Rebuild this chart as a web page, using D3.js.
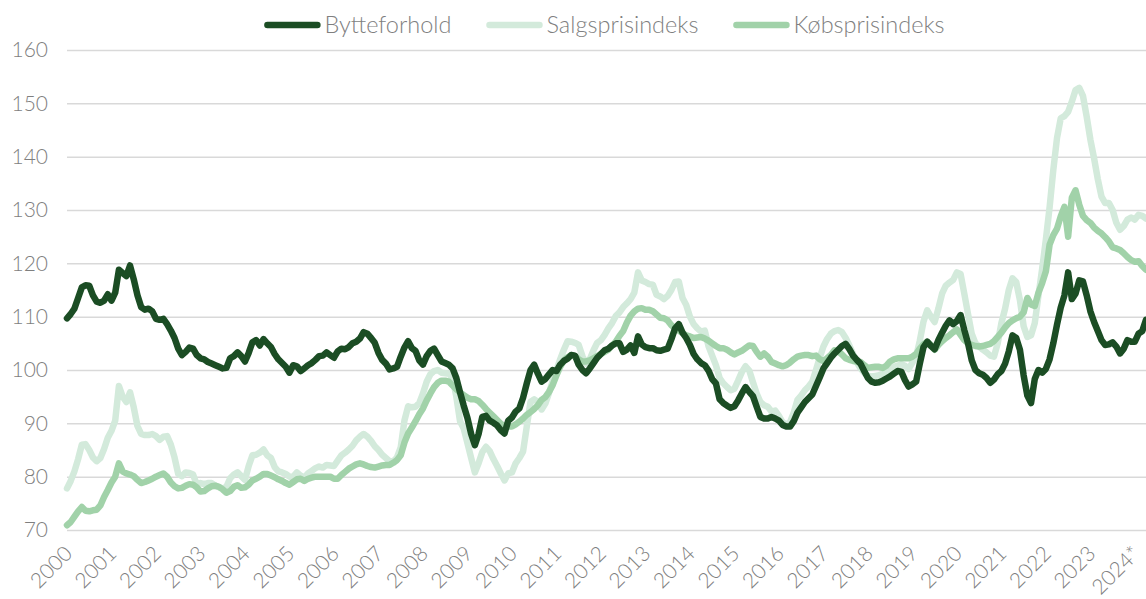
<!DOCTYPE html>
<html>
<head>
<meta charset="utf-8">
<script src="https://cdn.jsdelivr.net/npm/d3@7/dist/d3.min.js"></script>
<style>
  html, body { margin: 0; padding: 0; background: #ffffff; }
  svg { display: block; }
  text { font-family: "Lato", "Open Sans", sans-serif; font-weight: 300; }
</style>
</head>
<body>
<svg id="chart" width="1146" height="599"></svg>
<script>
// Monthly index series, January 2000 onwards
const startYear = 2000;

const bytteforhold = [
  109.7, 110.5, 111.5, 113.5, 115.5, 115.9, 115.8, 114.0, 112.8, 112.6, 113.0, 114.2,
  113.0, 114.5, 118.8, 118.2, 117.6, 119.6, 117.0, 114.0, 111.8, 111.3, 111.5, 111.0,
  109.6, 109.4, 109.6, 108.6, 107.4, 106.0, 104.0, 102.8, 103.4, 104.2, 104.0, 102.8,
  102.2, 102.0, 101.5, 101.2, 100.9, 100.6, 100.3, 100.4, 102.2, 102.6, 103.3, 102.6,
  101.6, 103.2, 105.2, 105.6, 104.6, 105.8, 105.0, 104.3, 103.0, 102.0, 101.3, 100.6,
  99.5, 100.9, 100.7, 99.8, 100.3, 100.9, 101.3, 101.9, 102.6, 102.7, 103.3, 102.8,
  102.3, 103.5, 104.0, 103.9, 104.3, 105.0, 105.3, 105.9, 107.1, 106.8, 106.0, 105.1,
  103.2, 101.9, 101.2, 100.1, 100.3, 100.6, 102.5, 104.2, 105.4, 104.1, 103.6, 101.8,
  101.0, 102.6, 103.6, 104.0, 102.8, 101.6, 101.3, 101.0, 100.3, 98.5, 95.8, 93.3,
  91.0, 88.0, 85.9, 88.0, 91.2, 91.4, 90.5, 90.1, 89.6, 88.7, 88.1, 90.5,
  91.1, 92.2, 92.8, 94.8, 97.5, 100.0, 101.0, 99.3, 97.8, 98.3, 99.2, 100.0,
  99.8, 101.0, 101.7, 102.1, 102.8, 102.7, 101.0, 100.0, 99.4, 100.3, 101.3, 102.3,
  103.0, 103.7, 104.0, 104.6, 105.0, 105.0, 103.4, 103.8, 104.6, 103.2, 106.3, 104.8,
  104.3, 104.1, 104.1, 103.7, 103.6, 103.8, 104.0, 105.8, 107.8, 108.6, 107.0, 106.0,
  104.7, 103.0, 102.0, 101.3, 100.9, 99.9, 98.3, 97.5, 94.5, 93.8, 93.3, 92.9,
  93.2, 94.3, 95.6, 96.8, 95.9, 95.1, 93.1, 91.2, 90.9, 90.9, 91.2, 90.9,
  90.5, 89.7, 89.4, 89.4, 90.4, 92.0, 93.0, 94.0, 94.7, 95.4, 97.0, 98.6,
  100.3, 101.3, 102.3, 103.1, 103.8, 104.5, 104.9, 103.9, 102.7, 101.9, 101.2, 99.8,
  98.5, 97.8, 97.6, 97.7, 98.0, 98.4, 98.8, 99.3, 99.8, 99.7, 98.1, 96.9,
  97.3, 97.8, 101.2, 104.3, 105.3, 104.5, 103.9, 105.6, 107.0, 108.3, 109.3, 108.6,
  109.2, 110.3, 107.5, 105.0, 101.8, 100.0, 99.4, 99.1, 98.5, 97.6, 98.2, 99.2,
  99.8, 101.2, 103.5, 106.5, 106.0, 103.8, 99.0, 95.2, 93.8, 98.3, 100.0, 99.5,
  100.2, 102.0, 105.0, 108.5, 111.7, 114.0, 118.3, 113.3, 114.3, 116.8, 116.6, 114.0,
  111.0, 109.0, 107.3, 105.6, 104.7, 104.8, 105.2, 104.4, 103.1, 104.0, 105.6, 105.3,
  105.3, 106.8, 107.3, 109.4
];

const salgsprisindeks = [
  77.8, 79.2, 81.0, 83.3, 86.0, 86.1, 85.0, 83.6, 82.9, 83.5, 85.2, 87.3,
  88.6, 90.5, 97.0, 95.0, 94.0, 95.8, 93.0, 89.5, 88.0, 87.8, 87.8, 88.0,
  87.6, 86.9, 87.5, 87.6, 86.0, 83.6, 80.5, 80.1, 80.8, 80.7, 80.4, 78.5,
  78.8, 78.6, 78.8, 78.8, 78.3, 78.0, 77.8, 78.1, 79.7, 80.4, 80.8, 80.1,
  79.4, 82.0, 84.0, 84.1, 84.5, 85.1, 84.0, 83.5, 81.8, 81.0, 80.8, 80.5,
  80.0, 80.0, 80.8, 80.2, 79.8, 80.6, 81.1, 81.6, 81.9, 81.7, 82.2, 82.1,
  82.0, 83.0, 84.0, 84.5, 85.1, 85.8, 86.8, 87.5, 88.0, 87.5, 86.7, 85.7,
  85.0, 84.1, 83.5, 82.9, 82.9, 83.6, 85.5, 90.5, 93.2, 93.0, 93.1, 93.8,
  95.6, 97.8, 99.2, 99.8, 100.0, 99.5, 99.4, 99.3, 98.5, 95.0, 90.4, 89.0,
  86.3, 83.5, 80.8, 82.5, 84.6, 85.6, 84.8, 83.3, 82.0, 80.6, 79.3, 80.6,
  80.8, 82.5, 83.5, 84.7, 89.4, 94.0, 94.5, 94.0, 92.6, 93.7, 95.7, 98.0,
  100.0, 102.0, 103.8, 105.4, 105.3, 105.1, 104.7, 102.6, 101.2, 102.0, 103.7, 105.1,
  105.6, 106.6, 107.8, 108.8, 110.1, 110.8, 111.8, 112.5, 113.3, 114.5, 118.3, 116.8,
  116.5, 116.1, 116.0, 114.1, 113.8, 113.3, 113.9, 115.0, 116.5, 116.6, 113.5, 112.2,
  110.0, 108.6, 107.8, 107.2, 107.4, 104.5, 102.7, 100.9, 98.5, 97.5, 96.8, 96.2,
  96.5, 98.0, 99.6, 100.7, 99.9, 97.7, 95.6, 94.0, 93.4, 93.1, 92.2, 92.4,
  91.4, 90.2, 89.8, 90.2, 92.0, 94.4, 95.2, 96.2, 96.9, 97.8, 100.0, 102.3,
  104.4, 105.8, 106.8, 107.3, 107.5, 107.1, 106.0, 104.6, 103.0, 101.5, 100.3, 99.5,
  98.9, 98.8, 98.9, 99.0, 99.3, 99.5, 99.9, 100.6, 100.8, 101.1, 100.8, 100.2,
  101.4, 102.5, 105.5, 109.1, 111.2, 110.0, 109.0, 111.5, 114.3, 115.8, 116.4, 116.9,
  118.3, 118.0, 114.3, 110.5, 106.8, 105.0, 104.4, 103.8, 103.3, 102.7, 102.5, 105.0,
  108.8, 111.5, 115.0, 117.2, 116.5, 113.1, 108.2, 106.2, 106.5, 108.8, 114.0, 119.0,
  124.5, 130.5, 137.5, 143.5, 147.2, 147.6, 148.4, 150.3, 152.5, 152.9, 151.4, 147.5,
  143.2, 139.7, 135.8, 132.5, 131.3, 131.3, 130.0, 127.6, 126.3, 127.0, 128.2, 128.6,
  128.2, 129.1, 128.9, 128.4
];

const koebsprisindeks = [
  70.9, 71.5, 72.5, 73.5, 74.3, 73.6, 73.5, 73.7, 73.8, 74.6, 76.2, 77.5,
  78.9, 80.0, 82.5, 81.0, 80.6, 80.4, 80.1, 79.4, 78.8, 79.0, 79.3, 79.6,
  80.0, 80.3, 80.6, 80.0, 78.9, 78.2, 77.8, 77.9, 78.3, 78.6, 78.5, 78.0,
  77.2, 77.3, 77.8, 78.2, 78.3, 78.1, 77.6, 77.0, 77.3, 78.1, 78.4, 77.9,
  78.0, 78.5, 79.3, 79.6, 80.0, 80.5, 80.5, 80.2, 79.9, 79.5, 79.2, 78.8,
  78.5, 79.0, 79.5, 79.6, 79.2, 79.6, 79.8, 80.0, 80.0, 80.0, 80.0, 80.0,
  79.6, 79.6, 80.3, 80.9, 81.5, 81.9, 82.3, 82.5, 82.3, 82.0, 81.8, 81.7,
  81.9, 82.1, 82.2, 82.2, 82.6, 83.1, 84.0, 86.4, 88.1, 89.2, 90.4, 91.7,
  92.8, 94.3, 95.6, 96.8, 97.6, 98.0, 98.0, 97.8, 97.1, 96.4, 95.8, 95.3,
  94.8, 94.5, 94.5, 94.2, 93.5, 92.7, 92.0, 91.3, 90.6, 89.9, 89.5, 89.4,
  89.4, 89.8, 90.3, 90.9, 91.6, 92.1, 92.7, 93.4, 94.4, 94.9, 95.9, 97.2,
  99.0, 100.6, 101.8, 102.4, 102.8, 102.6, 102.0, 101.6, 101.6, 101.8, 102.2, 102.6,
  103.0, 103.4, 103.8, 104.6, 105.3, 106.4, 107.3, 108.9, 110.2, 111.0, 111.5, 111.6,
  111.3, 111.3, 111.0, 110.4, 109.8, 109.7, 109.3, 108.4, 107.8, 107.4, 106.9, 106.5,
  106.3, 106.0, 106.1, 106.2, 105.9, 105.5, 105.0, 104.5, 104.1, 104.1, 103.8, 103.3,
  102.9, 103.3, 103.6, 104.1, 104.6, 104.5, 103.4, 102.5, 103.1, 102.5, 101.5, 101.2,
  100.9, 100.7, 100.9, 101.4, 102.0, 102.5, 102.7, 102.8, 102.8, 102.6, 102.7, 102.0,
  101.7, 102.2, 102.8, 103.7, 103.5, 102.9, 102.2, 101.9, 101.7, 101.6, 101.5, 100.9,
  100.4, 100.5, 100.6, 100.6, 100.4, 100.8, 101.6, 102.0, 102.2, 102.2, 102.2, 102.2,
  102.5, 103.0, 104.0, 104.8, 105.3, 104.7, 103.8, 104.7, 105.4, 106.0, 106.5, 107.1,
  107.6, 106.6, 105.6, 105.0, 104.7, 104.5, 104.4, 104.5, 104.7, 104.9, 105.4, 106.2,
  107.0, 108.0, 108.8, 109.3, 109.7, 110.0, 110.8, 113.5, 112.3, 112.0, 114.5, 116.3,
  118.5, 123.5, 125.3, 126.5, 128.8, 130.6, 125.0, 132.3, 133.7, 131.0, 128.9, 128.1,
  127.6, 126.7, 126.1, 125.6, 124.9, 124.1, 123.0, 122.8, 122.5, 121.9, 121.2, 120.6,
  120.3, 120.4, 119.5, 118.8
];

const yTicks = [70, 80, 90, 100, 110, 120, 130, 140, 150, 160];
const yearLabels = ["2000","2001","2002","2003","2004","2005","2006","2007","2008","2009",
  "2010","2011","2012","2013","2014","2015","2016","2017","2018","2019",
  "2020","2021","2022","2023","2024*"];

const seriesNames = ["Bytteforhold", "Salgsprisindeks", "Købsprisindeks"];
const seriesColors = ["#1b4d24", "#d3eadb", "#a1d2a9"];

const svg = d3.select("#chart");
const W = 1146, H = 599;
const margin = { left: 67, right: 0, top: 50, bottom: 69 };

const x = d3.scaleLinear()
  .domain([0, bytteforhold.length - 1])
  .range([margin.left, W - margin.right]);

const y = d3.scaleLinear()
  .domain([70, 160])
  .range([H - margin.bottom, margin.top]);

// Horizontal gridlines + y labels
const yAxis = d3.axisLeft(y).tickValues(yTicks).tickSize(-(W - margin.left)).tickPadding(19);
const gy = svg.append("g")
  .attr("transform", `translate(${margin.left},0)`)
  .call(yAxis);
gy.select(".domain").remove();
gy.selectAll(".tick line").attr("stroke", "#d9d9d9").attr("stroke-width", 1.5);
gy.selectAll(".tick text")
  .attr("fill", "#7f7f7f")
  .style("font-size", "21px");

// Year labels along the bottom, rotated 45 degrees
const yearIdx = yearLabels.map((d, i) => i * 12);
const xAxis = d3.axisBottom(x)
  .tickValues(yearIdx)
  .tickFormat((d, i) => yearLabels[i])
  .tickSize(0);
const gx = svg.append("g")
  .attr("transform", `translate(0,${H - margin.bottom})`)
  .call(xAxis);
gx.select(".domain").remove();
gx.selectAll(".tick text")
  .attr("fill", "#7f7f7f")
  .style("font-size", "21px")
  .attr("text-anchor", "end")
  .attr("x", 0).attr("y", 0).attr("dy", 0)
  .attr("transform", "translate(6,25) rotate(-45)");

// Lines
const line = d3.line()
  .x((d, i) => x(i))
  .y(d => y(d))
  .curve(d3.curveLinear);

const drawOrder = [
  { data: salgsprisindeks, color: seriesColors[1] },
  { data: koebsprisindeks, color: seriesColors[2] },
  { data: bytteforhold, color: seriesColors[0] }
];
svg.append("g").selectAll("path")
  .data(drawOrder)
  .join("path")
  .attr("d", d => line(d.data))
  .attr("fill", "none")
  .attr("stroke", d => d.color)
  .attr("stroke-width", 6.5)
  .attr("stroke-linejoin", "round")
  .attr("stroke-linecap", "round");

// Legend, centred at the top
const legend = svg.append("g");
const items = legend.selectAll("g")
  .data(seriesNames)
  .join("g");
items.append("line")
  .attr("x1", 0).attr("x2", 50)
  .attr("y1", 0).attr("y2", 0)
  .attr("stroke", (d, i) => seriesColors[i])
  .attr("stroke-width", 6.5)
  .attr("stroke-linecap", "round");
items.append("text")
  .attr("x", 57)
  .attr("dy", "0.35em")
  .attr("fill", "#7f7f7f")
  .style("font-size", "23.5px")
  .text(d => d);
const widths = [];
items.each(function () {
  widths.push(57 + this.querySelector("text").getComputedTextLength());
});
const gap = 38;
const total = d3.sum(widths) + gap * (widths.length - 1);
let cursor = 606 - total / 2;
items.attr("transform", (d, i) => {
  const t = `translate(${cursor},25)`;
  cursor += widths[i] + gap;
  return t;
});
</script>
</body>
</html>
